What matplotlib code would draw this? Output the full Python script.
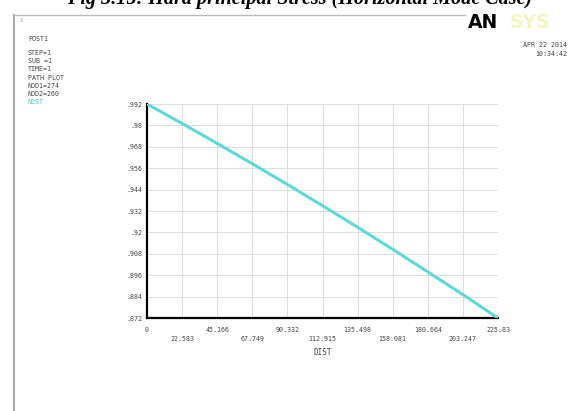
import numpy as np
import matplotlib
matplotlib.use("Agg")
import matplotlib.pyplot as plt
from matplotlib.lines import Line2D

# path plot values
dist = [0, 22.583, 45.166, 67.749, 90.332, 112.915, 135.498, 158.081, 180.664, 203.247, 225.83]
stress = [0.992, 0.9811, 0.9699, 0.9585, 0.9469, 0.935, 0.9229, 0.9105, 0.8979, 0.8851, 0.872]

x_ticks = [0, 22.583, 45.166, 67.749, 90.332, 112.915, 135.498, 158.081, 180.664, 203.247, 225.83]
x_labels = ["0", "22.583", "45.166", "67.749", "90.332", "112.915", "135.498", "158.081", "180.664", "203.247", "225.83"]
y_ticks = [0.872, 0.884, 0.896, 0.908, 0.92, 0.932, 0.944, 0.956, 0.968, 0.98, 0.992]
y_labels = [".872", ".884", ".896", ".908", ".92", ".932", ".944", ".956", ".968", ".98", ".992"]

info_lines = ["STEP=1", "SUB =1", "TIME=1", "PATH PLOT", "NOD1=274", "NOD2=260"]

W, H = 573, 411
fig = plt.figure(figsize=(W / 100, H / 100), dpi=100)
fig.patch.set_facecolor("white")

mono = "DejaVu Sans Mono"
txt_col = "#444444"

# caption at the very top, cut by the screenshot edge as in the source
fig.text(300 / W, 1 + 1 / H, "Fig 3.15: Hard principal Stress (Horizontal Mode Case)",
         ha="center", va="center", fontsize=14.5, fontweight="bold", fontstyle="italic",
         family="Liberation Serif", color="black")

# screenshot frame
fig.add_artist(Line2D([14 / W, 14 / W], [0, 1 - 15 / H], color="#aaaaaa", lw=1.5))
fig.add_artist(Line2D([14 / W, 465 / W], [1 - 15 / H, 1 - 15 / H], color="#bbbbbb", lw=1))
fig.text(19 / W, 1 - 22 / H, "1", fontsize=4, color="#999999", family=mono)

# left info block
fig.text(28 / W, 1 - 39 / H, "POST1", fontsize=4.8, color=txt_col, family=mono, va="center")
for i, s in enumerate(info_lines):
    fig.text(28 / W, 1 - (53 + i * 8.2) / H, s, fontsize=4.8, color=txt_col, family=mono, va="center")
fig.text(28 / W, 1 - (53 + 6 * 8.2) / H, "NOST", fontsize=4.8, color="#33cccc", family=mono, va="center")

# logo and time stamp
fig.text(468 / W, 1 - 22 / H, "AN", fontsize=13.5, fontweight="bold", color="black", va="center")
fig.text(510 / W, 1 - 22 / H, "SYS", fontsize=13.5, fontweight="bold", color="#f4f4c0", va="center")
fig.text(567 / W, 1 - 45 / H, "APR 22 2014", fontsize=4.8, color=txt_col, family=mono, ha="right", va="center")
fig.text(567 / W, 1 - 54 / H, "10:34:42", fontsize=4.8, color=txt_col, family=mono, ha="right", va="center")

ax = fig.add_axes([147 / W, (H - 318) / H, 351 / W, 214 / H])
ax.plot(dist, stress, color="#5fd8d8", lw=2.2, zorder=3)

ax.set_xlim(0, 225.83)
ax.set_ylim(0.872, 0.992)
ax.set_xticks(x_ticks)
ax.set_yticks(y_ticks)
ax.set_yticklabels(y_labels, fontsize=4.8, color=txt_col, family=mono)
ax.set_xticklabels([])
for i, (t, lab) in enumerate(zip(x_ticks, x_labels)):
    off = -0.055 if i % 2 == 0 else -0.1
    ax.text(t, off, lab, transform=ax.get_xaxis_transform(), ha="center", va="center",
            fontsize=4.8, color=txt_col, family=mono)
ax.text(0.5, -0.16, "DIST", transform=ax.transAxes, ha="center", va="center",
        fontsize=5.5, color=txt_col, family=mono)

ax.grid(True, color="#d8d8d8", lw=0.6)
ax.tick_params(length=0, pad=3)
for side in ["top", "right"]:
    ax.spines[side].set_visible(False)
ax.spines["left"].set_linewidth(1.6)
ax.spines["bottom"].set_linewidth(1.6)

fig.savefig("out.png", dpi=100)
